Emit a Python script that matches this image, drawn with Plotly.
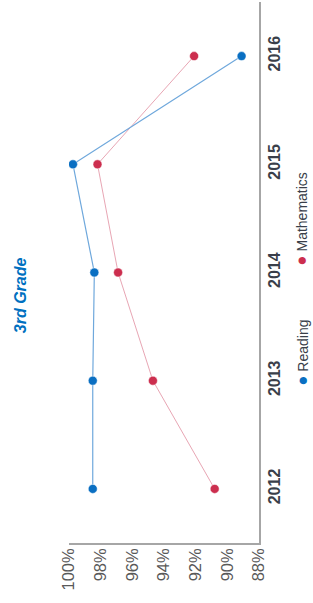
import plotly.graph_objects as go

years = ["2012", "2013", "2014", "2015", "2016"]
reading = [98.5, 98.5, 98.4, 99.75, 89.1]
mathematics = [90.8, 94.7, 96.9, 98.2, 92.1]
pct_ticks = [100, 98, 96, 94, 92, 90, 88]
pct_labels = ["100%", "98%", "96%", "94%", "92%", "90%", "88%"]

READ_DOT = "#0A6FC2"
READ_LINE = "#6FA8DC"
MATH_DOT = "#CC2E4E"
MATH_LINE = "#E8A6B4"

fig = go.Figure()
fig.add_trace(go.Scatter(
    x=mathematics, y=years, mode="lines+markers", name="Mathematics",
    line=dict(color=MATH_LINE, width=1),
    marker=dict(color=MATH_DOT, size=9, line=dict(color="white", width=0.5)),
))
fig.add_trace(go.Scatter(
    x=reading, y=years, mode="lines+markers", name="Reading",
    line=dict(color=READ_LINE, width=1.2),
    marker=dict(color=READ_DOT, size=9, line=dict(color="white", width=0.5)),
))

fig.update_layout(
    width=313, height=603,
    margin=dict(l=69, r=54, t=2, b=60, autoexpand=False),
    paper_bgcolor="white", plot_bgcolor="white",
    showlegend=False,
    font=dict(family="Liberation Sans, Arial, sans-serif"),
    xaxis=dict(
        range=[100, 88], tickvals=pct_ticks, ticktext=pct_labels,
        tickangle=-90, showgrid=False, zeroline=False, automargin=False,
        showline=True, linecolor="#A6A6A6", linewidth=1.5,
        ticks="", ticklabelstandoff=-3,
        tickfont=dict(size=16.5, color="#595959"),
    ),
    yaxis=dict(
        type="category", range=[-0.5, 4.5], side="right",
        tickangle=-90, showgrid=False, zeroline=False, automargin=False,
        showline=True, linecolor="#A6A6A6", linewidth=1.5,
        ticks="",
        tickfont=dict(size=16, color="#3A3F4A", family="Liberation Sans, Arial, sans-serif", weight="bold"),
    ),
    annotations=[
        dict(text="<b><i>3rd Grade</i></b>", xref="paper", yref="paper",
             x=-0.258, y=0.458, xanchor="center", yanchor="middle",
             textangle=-90, showarrow=False,
             font=dict(size=16, color="#0070C0", family="Liberation Sans Narrow, Liberation Sans, Arial")),
        dict(text="<span style='color:%s;font-size:17px'>●</span> Mathematics" % MATH_DOT,
             xref="paper", yref="paper",
             x=1.225, y=0.599, xanchor="center", yanchor="middle",
             textangle=-90, showarrow=False,
             font=dict(size=14, color="#3A3F4A", family="Liberation Sans Narrow, Liberation Sans, Arial")),
        dict(text="<span style='color:%s;font-size:17px'>●</span> Reading" % READ_DOT,
             xref="paper", yref="paper",
             x=1.225, y=0.351, xanchor="center", yanchor="middle",
             textangle=-90, showarrow=False,
             font=dict(size=14, color="#3A3F4A", family="Liberation Sans Narrow, Liberation Sans, Arial")),
    ],
)

fig.write_html(
    "out.html",
    config={"displayModeBar": False},
    post_script="document.body.style.margin='0px';document.body.style.overflow='hidden';",
)
